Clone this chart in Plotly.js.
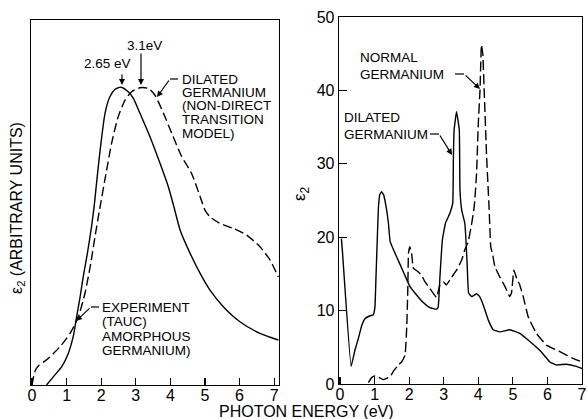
<!DOCTYPE html>
<html>
<head>
<meta charset="utf-8">
<script src="https://cdn.plot.ly/plotly-3.0.1.min.js"></script>
<style>html,body{margin:0;padding:0;background:#fff;}#chart{width:587px;height:419px;}</style>
</head>
<body>
<div id="chart"></div>
<script>
// ---- Left panel: epsilon2 (arbitrary units) vs photon energy ----
var leftExpX = [0.42,0.62,0.86,1.05,1.19,1.29,1.39,1.48,1.60,1.72,1.80,1.88,1.97,2.11,2.25,2.40,2.57,2.78,2.93,3.12,3.41,3.70,3.94,4.10,4.28,4.57,4.86,5.14,5.53,6.01,6.59,7.12];
var leftExpY = [0,2.8,6.1,10.6,16.1,22.8,29.4,36.1,43.9,52.8,60,69,78.5,90.6,96.1,98.6,99.3,97.8,95.6,90.6,82.8,73.9,66.1,59.5,51.7,43.9,37.2,31.7,26.1,21.1,17.2,15];
var leftModelX = [0,0.04,0.10,0.20,0.35,0.52,0.81,1.10,1.34,1.53,1.68,1.82,1.95,2.14,2.30,2.49,2.69,2.88,3.12,3.36,3.55,3.80,4.04,4.33,4.61,4.86,5.0,5.14,5.43,5.82,6.20,6.59,6.88,7.12];
var leftModelY = [0,2.5,5,6.6,7.8,9.4,12.8,17.2,22.8,30.6,39.4,49.4,58.3,70.6,80.6,89.4,95,97.8,99.1,98.9,96.7,90.6,83.9,76.1,70.6,62.8,58.3,56.1,53.9,52.2,50,46.1,41.7,36];

// ---- Right panel: epsilon2 vs photon energy ----
var dilatedX = [0.04,0.07,0.32,0.43,0.53,0.63,0.72,0.87,0.96,1.01,1.04,1.08,1.11,1.15,1.20,1.26,1.30,1.35,1.40,1.45,1.64,1.83,2.02,2.22,2.41,2.60,2.79,2.84,2.89,2.96,3.05,3.18,3.26,3.28,3.30,3.37,3.45,3.47,3.52,3.61,3.65,3.68,3.72,3.81,3.95,4.04,4.14,4.29,4.43,4.62,4.91,5.20,5.49,5.78,6.07,6.26,6.55,6.84,7.0];
var dilatedY = [19.8,18,2.4,4.6,6.2,8.0,8.9,9.3,9.4,10.5,14.6,20.1,24,25.8,26.2,25.8,25,23.7,21.9,19.4,17.3,15.3,13.3,12.1,11.1,10.4,10.2,10.5,14.6,19.6,21.9,23.3,24.6,31,34.6,37.1,34.6,26.4,23.7,21.9,19,16,12.4,11.9,12.3,11.9,10.8,8.7,7.4,7.1,7.4,6.9,5.8,4.6,3.0,2.6,2.7,2.4,2.1];
var normalX = [0.82,0.92,1.01,1.12,1.25,1.45,1.54,1.69,1.78,1.88,1.93,1.96,1.98,2.02,2.07,2.12,2.26,2.36,2.46,2.60,2.79,2.89,2.99,3.08,3.18,3.37,3.52,3.61,3.71,3.81,3.87,3.90,3.95,4.00,4.05,4.09,4.13,4.17,4.24,4.31,4.36,4.42,4.48,4.62,4.77,4.91,4.96,5.03,5.11,5.20,5.30,5.44,5.68,5.97,6.36,6.74,7.0];
var normalY = [0.2,0.9,1.1,0.9,0.6,1.0,1.7,2.6,3.0,3.9,7.8,12.8,17.8,18.7,17.8,15.8,15.3,14.8,13.9,13.0,11.8,13.5,13.9,13.5,14.2,15.5,16.9,18.3,19.4,21.9,23.7,25.1,28.7,35.5,40.1,46.2,45,40,31,24.2,18.7,17.5,16,14.6,13.3,11.9,12.4,15.5,14.4,13.5,11.9,9.2,6.9,5.3,4.4,3.5,3.0];

var xTicks = [0,1,2,3,4,5,6,7];
var rightYTicks = [0,10,20,30,40,50];

var W = 587, H = 419;
function P(px){ return px / W; }
function Q(py){ return (H - py) / H; }

var FONT = 'Liberation Sans, Arial, sans-serif';
var lineW = 1.4;

var traces = [
  {x: leftExpX, y: leftExpY, xaxis: 'x', yaxis: 'y', mode: 'lines',
   line: {color: '#000', width: lineW, shape: 'spline', smoothing: 0.6}, hoverinfo: 'skip'},
  {x: leftModelX, y: leftModelY, xaxis: 'x', yaxis: 'y', mode: 'lines',
   line: {color: '#000', width: lineW, dash: '9px,4px', shape: 'spline', smoothing: 0.6}, hoverinfo: 'skip'},
  {x: dilatedX, y: dilatedY, xaxis: 'x2', yaxis: 'y2', mode: 'lines',
   line: {color: '#000', width: lineW, shape: 'spline', smoothing: 0.3}, hoverinfo: 'skip'},
  {x: normalX, y: normalY, xaxis: 'x2', yaxis: 'y2', mode: 'lines',
   line: {color: '#000', width: lineW, dash: '10px,4px', shape: 'spline', smoothing: 0.3}, hoverinfo: 'skip'}
];

var axBase = {showgrid: false, zeroline: false, showline: true, mirror: true, linecolor: '#000', linewidth: 1.3,
  ticks: 'inside', ticklen: 7, tickwidth: 1.2, tickcolor: '#000', fixedrange: true,
  tickfont: {family: FONT, size: 16, color: '#000'}};

function ax(extra){ var o = {}; for (var k in axBase) o[k] = axBase[k]; for (var k2 in extra) o[k2] = extra[k2]; return o; }

// text labels (one annotation per line)
var textLines = [
  {t: '2.65 eV', x: 82, y: 64},
  {t: '3.1eV', x: 125, y: 45},
  {t: 'DILATED', x: 180, y: 79},
  {t: 'GERMANIUM', x: 180, y: 92},
  {t: '(NON-DIRECT', x: 180, y: 105.5},
  {t: 'TRANSITION', x: 180, y: 119.5},
  {t: 'MODEL)', x: 180, y: 133},
  {t: 'EXPERIMENT', x: 100, y: 307},
  {t: '(TAUC)', x: 100, y: 321},
  {t: 'AMORPHOUS', x: 100, y: 336},
  {t: 'GERMANIUM)', x: 100, y: 350},
  {t: 'NORMAL', x: 358, y: 58},
  {t: 'GERMANIUM', x: 358, y: 74},
  {t: 'DILATED', x: 342, y: 117},
  {t: 'GERMANIUM', x: 342, y: 134}
];

var annotations = textLines.map(function(l){
  return {text: l.t, xref: 'paper', yref: 'paper', x: P(l.x), y: Q(l.y), xanchor: 'left', yanchor: 'middle',
    showarrow: false, font: {family: FONT, size: 13.5, color: '#000'}};
});

// arrows: tip and tail in pixels
var arrows = [
  {tip: [122, 85], tail: [122, 73]},
  {tip: [141, 85], tail: [141, 52]},
  {tip: [157, 97], tail: [170, 79]},
  {tip: [76, 321], tail: [91, 307]},
  {tip: [480, 89], tail: [464, 74]},
  {tip: [452, 155], tail: [439, 134]}
];
arrows.forEach(function(a){
  annotations.push({text: '', xref: 'paper', yref: 'paper', x: P(a.tip[0]), y: Q(a.tip[1]),
    ax: a.tail[0] - a.tip[0], ay: a.tail[1] - a.tip[1], showarrow: true,
    arrowhead: 2, arrowsize: 1, arrowwidth: 1.2, arrowcolor: '#000', standoff: 0});
});

// axis titles
annotations.push({text: 'PHOTON ENERGY (eV)', xref: 'paper', yref: 'paper', x: P(306), y: Q(411),
  xanchor: 'center', yanchor: 'middle', showarrow: false, font: {family: FONT, size: 16, color: '#000'}});
annotations.push({text: '\u03b5<sub>2</sub> (ARBITRARY UNITS)', xref: 'paper', yref: 'paper', x: P(17), y: Q(208),
  xanchor: 'center', yanchor: 'middle', textangle: -90, showarrow: false, font: {family: FONT, size: 16, color: '#000'}});
annotations.push({text: '\u03b5<sub>2</sub>', xref: 'paper', yref: 'paper', x: P(301), y: Q(194),
  xanchor: 'center', yanchor: 'middle', textangle: -90, showarrow: false, font: {family: FONT, size: 17, color: '#000'}});

// short horizontal leader segments
var leaders = [
  [170, 178, 79],
  [91, 99, 307],
  [455, 464, 74],
  [430, 439, 134]
];
var shapes = leaders.map(function(s){
  return {type: 'line', xref: 'paper', yref: 'paper', x0: P(s[0]), x1: P(s[1]), y0: Q(s[2]), y1: Q(s[2]),
    line: {color: '#000', width: 1.2}};
});

var layout = {
  width: W, height: H,
  margin: {l: 0, r: 0, t: 0, b: 0},
  paper_bgcolor: '#fff', plot_bgcolor: '#fff',
  showlegend: false,
  xaxis: ax({domain: [P(31), P(279)], range: [-0.03, 7.14], tickvals: xTicks, ticktext: xTicks.map(String), anchor: 'y', ticklabelstandoff: -5}),
  yaxis: ax({domain: [Q(385), Q(20)], range: [0, 121.7], ticks: '', showticklabels: false, anchor: 'x'}),
  xaxis2: ax({domain: [P(339), P(582)], range: [-0.03, 7.0], tickvals: xTicks, ticktext: xTicks.map(String), anchor: 'y2', ticklabelstandoff: -5}),
  yaxis2: ax({domain: [Q(384), Q(17)], range: [0, 50], tickvals: rightYTicks, ticktext: rightYTicks.map(String), anchor: 'x2', ticklen: 8}),
  annotations: annotations,
  shapes: shapes
};

Plotly.newPlot('chart', traces, layout, {displayModeBar: false, staticPlot: true});
</script>
</body>
</html>
